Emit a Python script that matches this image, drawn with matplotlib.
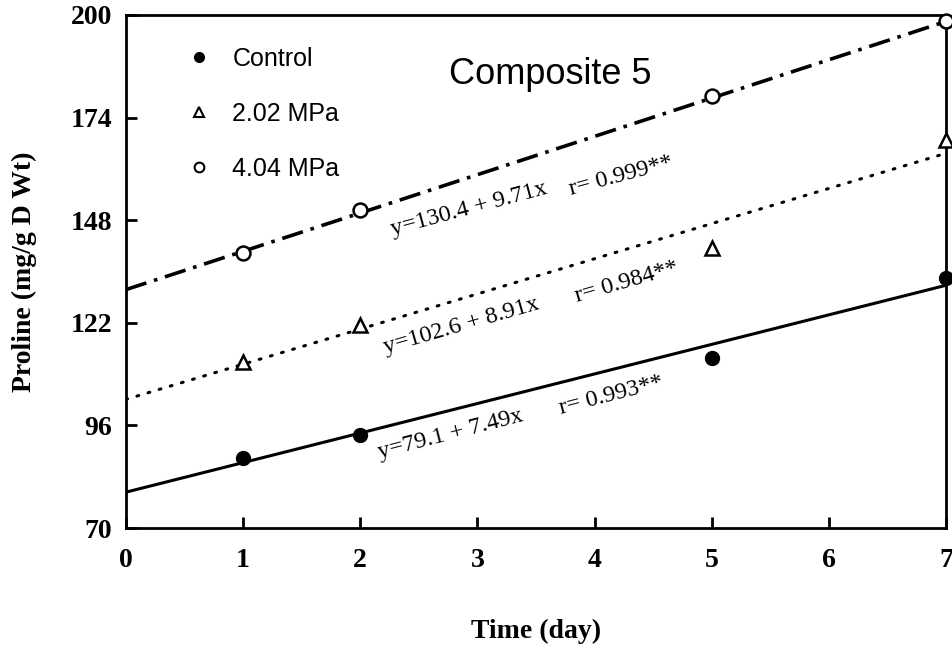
import numpy as np
import matplotlib
matplotlib.use('Agg')
import matplotlib.pyplot as plt
from matplotlib.lines import Line2D

# measured points
days = [1, 2, 5, 7]
control = [87.8, 93.6, 113.0, 133.3]
mpa202 = [112.2, 121.4, 141.0, 168.3]
mpa404 = [139.7, 150.6, 179.4, 198.5]

# regression lines (intercept, slope)
fit_control = [79.1, 7.49]
fit_202 = [102.6, 8.91]
fit_404 = [130.4, 9.71]

eq_labels = ['y=79.1 + 7.49x', 'y=102.6 + 8.91x', 'y=130.4 + 9.71x']
r_labels = ['r= 0.993**', 'r= 0.984**', 'r= 0.999**']
legend_labels = ['Control', '2.02 MPa', '4.04 MPa']

xticks = [0, 1, 2, 3, 4, 5, 6, 7]
yticks = [70, 96, 122, 148, 174, 200]

serif = 'Liberation Serif'
sans = 'Liberation Sans'

fig = plt.figure(figsize=(9.53, 6.48), dpi=100)
ax = fig.add_axes([0.132, 0.185, 0.861, 0.792])

xx = np.array([0, 7])
ax.plot(xx, fit_control[0] + fit_control[1]*xx, 'k-', lw=2.2)
ax.plot(xx, fit_202[0] + fit_202[1]*xx, color='k', lw=2.2, ls=(0, (0.6, 3.2)), dash_capstyle='round')
ax.plot(xx, fit_404[0] + fit_404[1]*xx, color='k', lw=2.6, ls=(0, (6, 2.2, 1, 2.2)))

ax.plot(days, control, 'o', color='k', ms=10, clip_on=False, zorder=5)
ax.plot(days, mpa202, '^', mfc='white', mec='k', mew=1.8, ms=10, clip_on=False, zorder=5)
ax.plot(days, mpa404, 'o', mfc='white', mec='k', mew=1.8, ms=10, clip_on=False, zorder=5)

# equation texts
eq_pos = [(2.17, 87.6), (2.22, 114.4), (2.28, 144.2)]
r_pos = [(3.71, 98.8), (3.85, 127.4), (3.80, 154.4)]
rots = [14.5, 16.0, 15.0]
for lab, pos, rot in zip(eq_labels, eq_pos, rots):
    ax.text(pos[0], pos[1], lab, rotation=rot, rotation_mode='anchor',
            ha='left', va='baseline', fontsize=17.5, family=serif)
for lab, pos, rot in zip(r_labels, r_pos, rots):
    ax.text(pos[0], pos[1], lab, rotation=rot, rotation_mode='anchor',
            ha='left', va='baseline', fontsize=17.5, family=serif)

ax.text(0.517, 0.883, 'Composite 5', transform=ax.transAxes, fontsize=26,
        family=sans, ha='center', va='center')

handles = [Line2D([], [], ls='none', marker='o', color='k', ms=7),
           Line2D([], [], ls='none', marker='^', mfc='white', mec='k', mew=1.5, ms=7),
           Line2D([], [], ls='none', marker='o', mfc='white', mec='k', mew=1.5, ms=7)]
ax.legend(handles, legend_labels, loc='upper left', bbox_to_anchor=(0.046, 0.982),
          frameon=False, prop={'family': sans, 'size': 18}, labelspacing=1.25,
          handlelength=1.0, handletextpad=0.85)

ax.set_xlim(0, 7)
ax.set_ylim(70, 200)
ax.set_xticks(xticks)
ax.set_yticks(yticks)
ax.tick_params(direction='in', length=8, width=2, pad=10)
ax.tick_params(axis='x', pad=14)
for lab in ax.get_xticklabels() + ax.get_yticklabels():
    lab.set_family(serif)
    lab.set_fontweight('bold')
    lab.set_fontsize(20)
for sp in ax.spines.values():
    sp.set_linewidth(2)

ax.set_xlabel('Time (day)', family=serif, fontweight='bold', fontsize=20, labelpad=33)
ax.set_ylabel('Proline (mg/g D Wt)', family=serif, fontweight='bold', fontsize=20, labelpad=24)

fig.savefig('out.png', dpi=100)
